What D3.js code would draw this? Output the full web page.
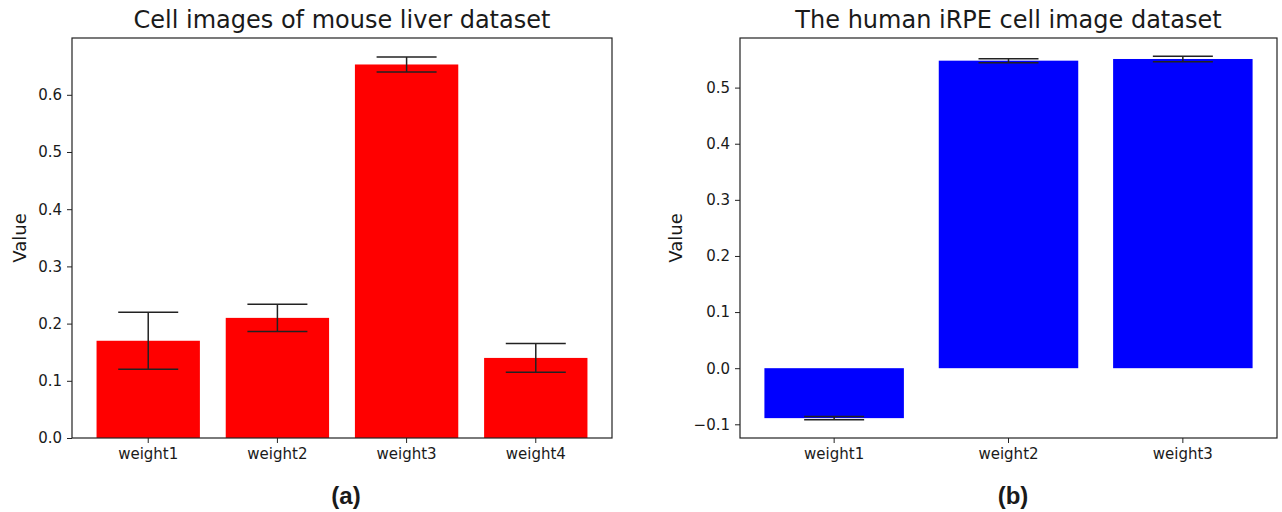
<!DOCTYPE html>
<html>
<head>
<meta charset="utf-8">
<script src="https://cdn.jsdelivr.net/npm/d3@7"></script>
<style>
  body { margin: 0; background: #fff; }
  text { font-family: "DejaVu Sans", sans-serif; fill: #1a1a1a; }
</style>
</head>
<body>
<div id="chart"></div>
<script>
// panel (a) - mouse liver
var liverCats = ["weight1", "weight2", "weight3", "weight4"];
var liverValues = [0.17, 0.21, 0.653, 0.14];
var liverErrors = [0.05, 0.024, 0.013, 0.025];
var liverTicks = [0.0, 0.1, 0.2, 0.3, 0.4, 0.5, 0.6];

// panel (b) - human iRPE
var irpeCats = ["weight1", "weight2", "weight3"];
var irpeValues = [-0.089, 0.548, 0.551];
var irpeErrors = [0.003, 0.0035, 0.005];
var irpeTicks = [-0.1, 0.0, 0.1, 0.2, 0.3, 0.4, 0.5];

window.w = 1282;
window.h = 512;

const svg = d3.select("#chart")
  .append("svg")
  .attr("width", w)
  .attr("height", h);

drawPanel({
  left: 72, right: 612, top: 38, bottom: 438,
  cats: liverCats, values: liverValues, errors: liverErrors, ticks: liverTicks,
  color: "#ff0000", title: "Cell images of mouse liver dataset",
  labelX: 20, caption: "(a)", captionX: 346
});

drawPanel({
  left: 740, right: 1277, top: 38, bottom: 438,
  cats: irpeCats, values: irpeValues, errors: irpeErrors, ticks: irpeTicks,
  color: "#0000ff", title: "The human iRPE cell image dataset",
  labelX: 676, caption: "(b)", captionX: 1013
});

function drawPanel(p) {
  var n = p.cats.length;

  // like matplotlib: bar width 0.8, 5% margins
  var xScale = d3.scaleBand()
    .domain(p.cats)
    .range([p.left, p.right])
    .paddingInner(0.2)
    .paddingOuter(0.05 * (n - 0.2));

  var lo = d3.min(p.values.map((v, i) => Math.min(0, v - p.errors[i])));
  var hi = d3.max(p.values.map((v, i) => Math.max(0, v + p.errors[i])));
  var pad = (hi - lo) * 0.05;
  // bars stick to zero, so no margin below 0 when nothing is negative
  var yMin = lo < 0 ? lo - pad : 0;
  var yMax = hi > 0 ? hi + pad : 0;

  var yScale = d3.scaleLinear()
    .domain([yMin, yMax])
    .range([p.bottom, p.top]);

  var g = svg.append("g");

  // bars
  g.selectAll(".bar")
    .data(p.values)
    .enter().append("rect")
    .attr("x", (d, i) => xScale(p.cats[i]))
    .attr("width", xScale.bandwidth())
    .attr("y", d => yScale(Math.max(0, d)))
    .attr("height", d => Math.abs(yScale(d) - yScale(0)))
    .attr("fill", p.color);

  // error bars
  var capHalf = 30;
  var eb = g.selectAll(".err")
    .data(p.values)
    .enter().append("g")
    .attr("stroke", "#222")
    .attr("stroke-width", 1.5);
  eb.append("line")
    .attr("x1", (d, i) => xScale(p.cats[i]) + xScale.bandwidth() / 2)
    .attr("x2", (d, i) => xScale(p.cats[i]) + xScale.bandwidth() / 2)
    .attr("y1", (d, i) => yScale(d - p.errors[i]))
    .attr("y2", (d, i) => yScale(d + p.errors[i]));
  [-1, 1].forEach(function(s) {
    eb.append("line")
      .attr("x1", (d, i) => xScale(p.cats[i]) + xScale.bandwidth() / 2 - capHalf)
      .attr("x2", (d, i) => xScale(p.cats[i]) + xScale.bandwidth() / 2 + capHalf)
      .attr("y1", (d, i) => yScale(d + s * p.errors[i]))
      .attr("y2", (d, i) => yScale(d + s * p.errors[i]));
  });

  // axes
  var yAxis = d3.axisLeft(yScale)
    .tickValues(p.ticks)
    .tickFormat(d3.format(".1f"))
    .tickSize(5)
    .tickPadding(5);
  var xAxis = d3.axisBottom(xScale)
    .tickSize(5)
    .tickPadding(5);

  var ya = g.append("g")
    .attr("transform", "translate(" + p.left + ",0)")
    .call(yAxis);
  var xa = g.append("g")
    .attr("transform", "translate(0," + p.bottom + ")")
    .call(xAxis);
  [ya, xa].forEach(function(a) {
    a.select(".domain").remove();
    a.selectAll(".tick line").attr("stroke", "#222").attr("stroke-width", 1);
    a.selectAll(".tick text")
      .style("font-family", "DejaVu Sans")
      .style("font-size", "15px")
      .attr("fill", "#1a1a1a");
  });

  // frame
  g.append("rect")
    .attr("x", p.left)
    .attr("y", p.top)
    .attr("width", p.right - p.left)
    .attr("height", p.bottom - p.top)
    .attr("fill", "none")
    .attr("stroke", "#222")
    .attr("stroke-width", 1.2);

  // title
  g.append("text")
    .attr("x", (p.left + p.right) / 2)
    .attr("y", 28)
    .style("text-anchor", "middle")
    .style("font-size", "24px")
    .text(p.title);

  // y label
  g.append("text")
    .attr("transform", "translate(" + p.labelX + "," + ((p.top + p.bottom) / 2) + ") rotate(-90)")
    .attr("dy", "0.35em")
    .style("text-anchor", "middle")
    .style("font-size", "18px")
    .text("Value");

  // caption
  g.append("text")
    .attr("x", p.captionX)
    .attr("y", 504)
    .style("text-anchor", "middle")
    .style("font-family", "Liberation Sans, Arial, sans-serif")
    .style("font-weight", "bold")
    .style("font-size", "24px")
    .attr("fill", "#000")
    .text(p.caption);
}
</script>
</body>
</html>
